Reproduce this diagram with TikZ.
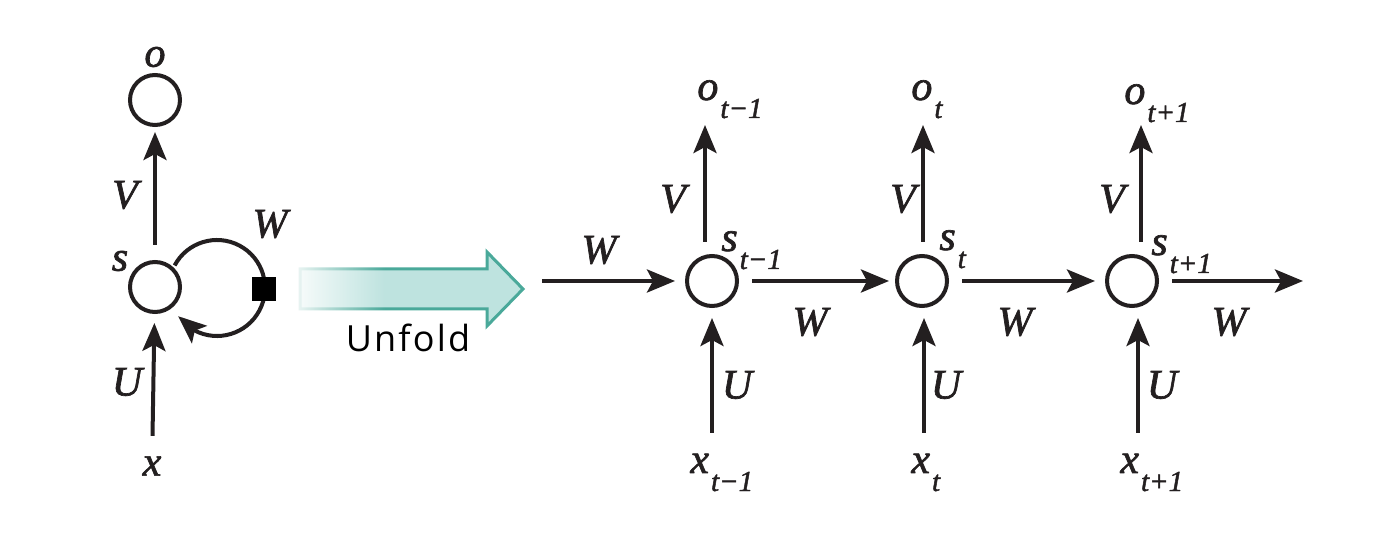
\documentclass[tikz,border=0pt]{standalone}
\usepackage{fontspec}
\newfontfamily\unfoldfont[LetterSpace=6]{Open Sans}
\newfontfamily\labfont[FakeBold=1.6]{Liberation Serif Italic}
\usetikzlibrary{arrows.meta,fadings,bending}
\tikzfading[name=whitefade, left color=transparent!0, right color=transparent!100]
\definecolor{ink}{HTML}{231F20}
\definecolor{tealfill}{HTML}{BEE3DF}
\definecolor{tealline}{HTML}{4AA99A}
\newcommand\lbl[2]{#1\kern1pt\raisebox{-9pt}{\fontsize{14.5}{16}\selectfont #2}}
\begin{document}
\begin{tikzpicture}[x=0.5pt,y=0.5pt,
  unit/.style={circle, draw=ink, line width=2pt, minimum size=25pt, inner sep=0pt},
  arr/.style={draw=ink, line width=2pt, -{Stealth[length=14pt,width=11.5pt,inset=3pt]}},
  lab/.style={font=\labfont\fontsize{21}{24}\selectfont, inner sep=0pt, text=ink},
  sublab/.style={lab, anchor=base west}]
\useasboundingbox (0,0) rectangle (1390,540);

% ---------- folded network ----------
\node[unit] (o0) at (155,440) {};
\node[unit] (s0) at (155,253) {};
\node[lab] (lo) at (155,483) {o};
\node[lab] (ls) at (120,279) {s};
\node[lab] (lx) at (152,74) {x};
\node[lab] (lV0) at (125,345) {V};
\node[lab] (lU0) at (127,158) {U};
\node[lab] (lW0) at (270,316) {W};

\draw[arr, shorten <=7.5pt, shorten >=2.5pt] (s0) -- (o0);
\draw[arr, shorten <=10pt, shorten >=4.5pt] (lx) -- (s0);
\coordinate (lc) at (217,252);
\draw[draw=ink, line width=2pt, -{Stealth[length=14pt,width=11.5pt,inset=3pt,flex=1]}]
  ([shift={(152:48)}]lc) arc[start angle=152, end angle=-144, radius=48];
\node[fill=black, minimum size=12pt, inner sep=0pt] (sq) at (264,251) {};

% ---------- unfold arrow ----------
\path[fill=tealfill, draw=tealline, line width=1.5pt, line join=miter]
  (300,271) -- (487,271) -- (487,288) -- (523,251) -- (487,214) -- (487,231) -- (300,231) -- cycle;
\fill[white, opacity=0.9, path fading=whitefade] (296,225) rectangle (385,277);
\node[font=\unfoldfont\fontsize{18}{21}\selectfont, anchor=base, inner sep=0pt] (unf) at (408,188) {Unfold};

% ---------- unfolded network ----------
\node[unit] (s1) at (712,259) {};
\node[unit] (s2) at (922,259) {};
\node[unit] (s3) at (1132,259) {};

\coordinate (win) at (542,259);
\coordinate (wout) at (1303,259);
\draw[arr, shorten >=5pt] (win) -- (s1);
\draw[arr, shorten <=6.5pt, shorten >=3pt] (s1) -- (s2);
\draw[arr, shorten <=6.5pt, shorten >=5pt] (s2) -- (s3);
\draw[arr, shorten <=6.5pt] (s3) -- (wout);

% vertical arrows
\coordinate (v1) at (705,415);
\coordinate (v2) at (923,415);
\coordinate (v3) at (1141,415);
\draw[arr, shorten <=6pt] (v1 |- s1.north) -- (v1);
\draw[arr, shorten <=6pt] (v2 |- s2.north) -- (v2);
\draw[arr, shorten <=6pt] (v3 |- s3.north) -- (v3);
\coordinate (u1) at (712,107);
\coordinate (u2) at (924,107);
\coordinate (u3) at (1138,107);
\draw[arr, shorten >=5pt] (u1) -- (u1 |- s1.south);
\draw[arr, shorten >=5pt] (u2) -- (u2 |- s2.south);
\draw[arr, shorten >=5pt] (u3) -- (u3 |- s3.south);

% labels
\node[sublab] (lo1) at (697,440) {\lbl{o}{t−1}};
\node[sublab] (lo2) at (911,440) {\lbl{o}{t}};
\node[sublab] (lo3) at (1124,436) {\lbl{o}{t+1}};
\node[sublab] (ls1) at (721,289) {\lbl{s}{t−1}};
\node[sublab] (ls2) at (939,290) {\lbl{s}{t}};
\node[sublab] (ls3) at (1151,285) {\lbl{s}{t+1}};
\node[sublab] (lx1) at (690,67) {\lbl{x}{t−1}};
\node[sublab] (lx2) at (911,67) {\lbl{x}{t}};
\node[sublab] (lx3) at (1120,67) {\lbl{x}{t+1}};

\node[lab] (lV1) at (673,341) {V};
\node[lab] (lV2) at (903,341) {V};
\node[lab] (lV3) at (1112,341) {V};
\node[lab] (lU1) at (737,155) {U};
\node[lab] (lU2) at (946,155) {U};
\node[lab] (lU3) at (1162,155) {U};
\node[lab] (lW1) at (599,290) {W};
\node[lab] (lW2) at (810,218) {W};
\node[lab] (lW3) at (1015,218) {W};
\node[lab] (lW4) at (1229,218) {W};
\end{tikzpicture}
\end{document}
